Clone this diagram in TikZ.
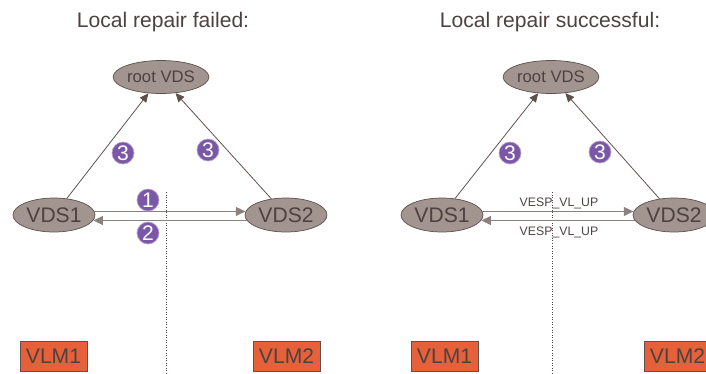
\documentclass[tikz,border=0pt]{standalone}
\usepackage{fontspec}
\setmainfont{Liberation Sans}
\usepackage{tikz}
\usetikzlibrary{shapes, arrows.meta, positioning}

\definecolor{txtgray}{HTML}{4D4242}
\definecolor{ellfill}{HTML}{A2958F}
\definecolor{elldraw}{HTML}{5E504C}
\definecolor{linegray}{HTML}{8C817D}
\definecolor{badgepurple}{HTML}{7A58A6}
\definecolor{vlmorange}{HTML}{E6603A}

\begin{document}
\begin{tikzpicture}[x=0.02cm, y=-0.02cm,
    vds/.style={ellipse, draw=elldraw, fill=ellfill, inner sep=0pt,
        minimum width=1.64cm, minimum height=0.68cm,
        text=txtgray, font=\fontsize{12}{12}\selectfont},
    rootvds/.style={vds, minimum height=0.66cm, font=\fontsize{9.5}{10}\selectfont},
    vlm/.style={rectangle, draw=elldraw, fill=vlmorange, inner sep=0pt,
        minimum width=1.34cm, minimum height=0.6cm,
        text=txtgray, font=\fontsize{12}{12}\selectfont},
    badge/.style={circle, fill=badgepurple, draw=badgepurple!55!white, inner sep=0pt,
        minimum size=0.44cm, text=white, font=\fontsize{12}{12}\selectfont},
    title/.style={text=txtgray, font=\fontsize{12}{12}\selectfont},
    msg/.style={text=txtgray, font=\fontsize{7}{7}\selectfont},
    uplink/.style={draw=elldraw, line width=0.45pt, -{Triangle[length=5pt,width=4.5pt]}},
    peer/.style={draw=linegray, line width=0.8pt, -{Triangle[length=5.5pt,width=5pt]}, shorten >=0pt},
    split/.style={draw=txtgray, line width=0.45pt, densely dotted}]

    \useasboundingbox (0,0) rectangle (706,373);

    % split lines between the two sides
    \coordinate (cutLtop) at (166,192);
    \coordinate (cutLbot) at (166,373);
    \coordinate (cutRtop) at (552,192);
    \coordinate (cutRbot) at (552,373);
    \draw[split] (cutLtop) -- (cutLbot);
    \draw[split] (cutRtop) -- (cutRbot);

    % left: local repair failed
    \node[title] (titleL) at (163,22) {Local repair failed:};
    \node[rootvds] (rootL) at (161,77) {root VDS};
    \node[vds] (vdsL1) at (54,215) {VDS1};
    \node[vds] (vdsL2) at (286,215) {VDS2};

    \draw[uplink] (vdsL1) -- (rootL);
    \draw[uplink] (vdsL2) -- (rootL);
    \draw[peer] (vdsL1.5) -- (vdsL2.175);
    \draw[peer] (vdsL2.188) -- (vdsL1.-8);

    \node[badge] (oneL) at (148,200) {1};
    \node[badge] (twoL) at (148,233) {2};
    \node[badge] (threeLa) at (123,153) {3};
    \node[badge] (threeLb) at (208,150) {3};

    \node[vlm] (vlmL1) at (53.5,356) {VLM1};
    \node[vlm] (vlmL2) at (286.5,356) {VLM2};

    % right: local repair successful
    \node[title] (titleR) at (550,22) {Local repair successful:};
    \node[rootvds] (rootR) at (551,77) {root VDS};
    \node[vds] (vdsR1) at (442,215) {VDS1};
    \node[vds] (vdsR2) at (674,215) {VDS2};

    \draw[uplink] (vdsR1) -- (rootR);
    \draw[uplink] (vdsR2) -- (rootR);
    \draw[peer] (vdsR1.5) -- (vdsR2.175);
    \draw[peer] (vdsR2.188) -- (vdsR1.-8);

    \node[msg] (upR1) at (559,203) {VESP\_VL\_UP};
    \node[msg] (upR2) at (559,232) {VESP\_VL\_UP};

    \node[badge] (threeRa) at (510,153) {3};
    \node[badge] (threeRb) at (600,152) {3};

    \node[vlm] (vlmR1) at (444.5,356) {VLM1};
    \node[vlm] (vlmR2) at (677.5,356) {VLM2};
\end{tikzpicture}
\end{document}
